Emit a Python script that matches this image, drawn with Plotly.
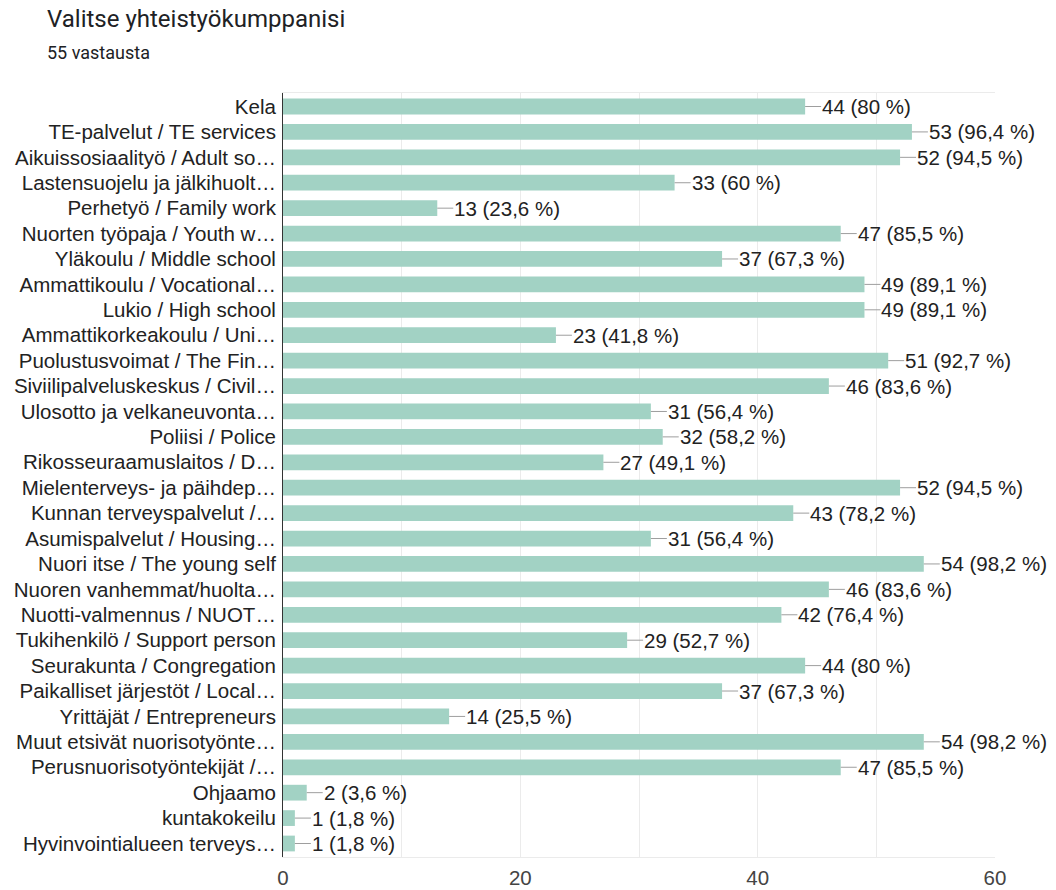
import plotly.graph_objects as go

categories = [
    "Kela",
    "TE-palvelut / TE services",
    "Aikuissosiaalityö / Adult so…",
    "Lastensuojelu ja jälkihuolt…",
    "Perhetyö / Family work",
    "Nuorten työpaja / Youth w…",
    "Yläkoulu / Middle school",
    "Ammattikoulu / Vocational…",
    "Lukio / High school",
    "Ammattikorkeakoulu / Uni…",
    "Puolustusvoimat / The Fin…",
    "Siviilipalveluskeskus / Civil…",
    "Ulosotto ja velkaneuvonta…",
    "Poliisi / Police",
    "Rikosseuraamuslaitos / D…",
    "Mielenterveys- ja päihdep…",
    "Kunnan terveyspalvelut /…",
    "Asumispalvelut / Housing…",
    "Nuori itse / The young self",
    "Nuoren vanhemmat/huolta…",
    "Nuotti-valmennus / NUOT…",
    "Tukihenkilö / Support person",
    "Seurakunta / Congregation",
    "Paikalliset järjestöt / Local…",
    "Yrittäjät / Entrepreneurs",
    "Muut etsivät nuorisotyönte…",
    "Perusnuorisotyöntekijät /…",
    "Ohjaamo",
    "kuntakokeilu",
    "Hyvinvointialueen terveys…",
]
counts = [44, 53, 52, 33, 13, 47, 37, 49, 49, 23, 51, 46, 31, 32, 27, 52, 43, 31,
          54, 46, 42, 29, 44, 37, 14, 54, 47, 2, 1, 1]
percents = ["80 %", "96,4 %", "94,5 %", "60 %", "23,6 %", "85,5 %", "67,3 %", "89,1 %",
            "89,1 %", "41,8 %", "92,7 %", "83,6 %", "56,4 %", "58,2 %", "49,1 %", "94,5 %",
            "78,2 %", "56,4 %", "98,2 %", "83,6 %", "76,4 %", "52,7 %", "80 %", "67,3 %",
            "25,5 %", "98,2 %", "85,5 %", "3,6 %", "1,8 %", "1,8 %"]
x_ticks = [0, 20, 40, 60]
title_text = "Valitse yhteistyökumppanisi"
subtitle_text = "55 vastausta"

W, H = 1056, 890
L, T = 283, 93
R = W - 995
B = H - 857
pw, ph = W - L - R, H - T - B

fig = go.Figure()
fig.add_trace(go.Bar(
    y=categories, x=counts, orientation="h",
    marker=dict(color="#a2d2c4", line=dict(width=0)),
    hoverinfo="skip",
))

shapes = []
annotations = []
for c, v, p in zip(categories, counts, percents):
    shapes.append(dict(type="line", xref="x", yref="y", xsizemode="pixel", xanchor=v,
                       x0=0, x1=16, y0=c, y1=c, line=dict(color="#9e9e9e", width=1)))
    annotations.append(dict(x=v, y=c, xref="x", yref="y", text=f"{v} ({p})",
                            showarrow=False, xanchor="left", yanchor="middle", xshift=15,
                            font=dict(family="Liberation Sans, Arial", size=20.5, color="#222222")))

annotations.append(dict(x=(45 - L) / pw, y=1 + (T - 19) / ph, xref="paper", yref="paper",
                        text=title_text, showarrow=False, xanchor="left", yanchor="middle",
                        font=dict(family="Roboto", size=24, color="#202124")))
annotations.append(dict(x=(45 - L) / pw, y=1 + (T - 52) / ph, xref="paper", yref="paper",
                        text=subtitle_text, showarrow=False, xanchor="left", yanchor="middle",
                        font=dict(family="Roboto", size=18, color="#202124")))

fig.update_layout(
    width=W, height=H,
    margin=dict(l=L, r=R, t=T, b=B, pad=0),
    paper_bgcolor="white", plot_bgcolor="white",
    bargap=0.38,
    showlegend=False,
    shapes=shapes,
    annotations=annotations,
    xaxis=dict(range=[0, 60], tickvals=x_ticks, ticktext=[str(t) for t in x_ticks],
               showgrid=True, gridcolor="#ebebeb", gridwidth=1,
               minor=dict(dtick=10, showgrid=True, gridcolor="#ebebeb", gridwidth=1),
               showline=True, linecolor="#ebebeb", mirror=True, zeroline=False,
               ticks="", ticklen=0, ticklabelstandoff=2, automargin=False,
               tickfont=dict(family="Liberation Sans, Arial", size=20.5, color="#444444"),
               fixedrange=True),
    yaxis=dict(autorange="reversed", showline=True, linecolor="#333333", linewidth=1,
               tickmode="array", tickvals=categories, ticktext=categories,
               showgrid=False, ticks="", ticklabelstandoff=2, automargin=False,
               tickfont=dict(family="Liberation Sans, Arial", size=20.5, color="#222222"),
               fixedrange=True),
)

fig.write_html(
    "out.html",
    config={"displayModeBar": False},
    post_script="document.body.style.margin='0';document.body.style.overflow='hidden';",
)
